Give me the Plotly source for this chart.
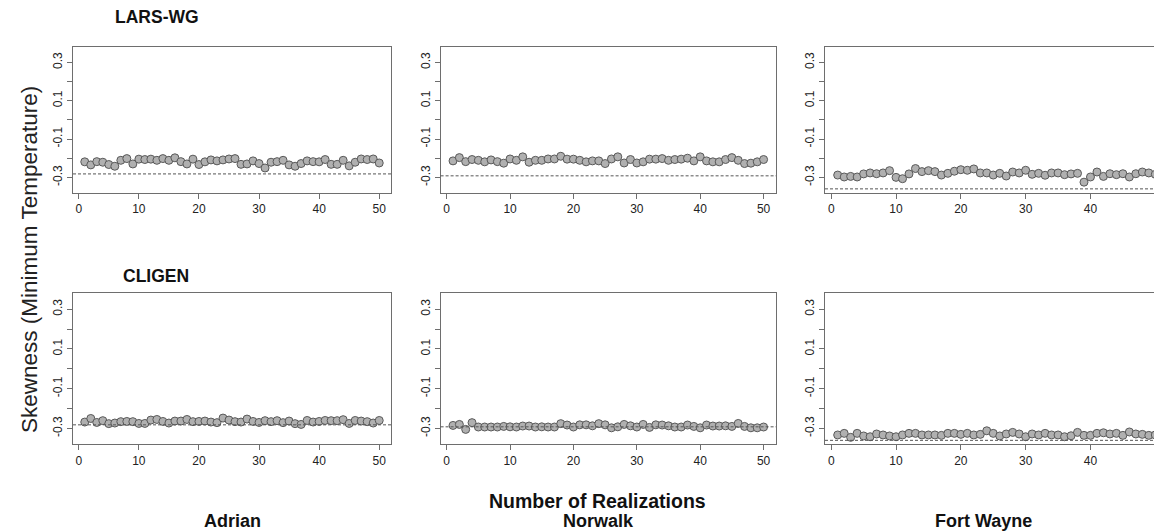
import plotly.graph_objects as go

# ---------------- data ----------------
realization = list(range(1, 51))
stations = ["Adrian", "Norwalk", "Fort Wayne"]
generators = ["LARS-WG", "CLIGEN"]
observed_skew = [-0.282, -0.292, -0.360]

lars_adrian = [-0.219, -0.235, -0.218, -0.221, -0.233, -0.242, -0.211, -0.202, -0.230, -0.205,
               -0.207, -0.205, -0.211, -0.202, -0.211, -0.198, -0.218, -0.230, -0.205, -0.233,
               -0.219, -0.209, -0.214, -0.209, -0.204, -0.202, -0.232, -0.230, -0.214, -0.228,
               -0.251, -0.221, -0.218, -0.211, -0.235, -0.242, -0.228, -0.214, -0.218, -0.219,
               -0.207, -0.232, -0.232, -0.211, -0.240, -0.221, -0.204, -0.207, -0.204, -0.225]
lars_norwalk = [-0.214, -0.197, -0.218, -0.207, -0.211, -0.219, -0.209, -0.218, -0.226, -0.204,
                -0.211, -0.193, -0.221, -0.211, -0.211, -0.204, -0.204, -0.190, -0.205, -0.205,
                -0.211, -0.219, -0.214, -0.214, -0.228, -0.204, -0.193, -0.225, -0.207, -0.225,
                -0.219, -0.205, -0.205, -0.202, -0.211, -0.207, -0.205, -0.200, -0.214, -0.193,
                -0.214, -0.219, -0.219, -0.207, -0.197, -0.211, -0.228, -0.226, -0.219, -0.207]
lars_fortwayne = [-0.288, -0.298, -0.295, -0.298, -0.282, -0.277, -0.281, -0.277, -0.265, -0.300,
                  -0.307, -0.282, -0.254, -0.270, -0.265, -0.270, -0.288, -0.279, -0.268, -0.260,
                  -0.263, -0.256, -0.277, -0.277, -0.288, -0.279, -0.293, -0.272, -0.277, -0.263,
                  -0.284, -0.279, -0.289, -0.277, -0.277, -0.286, -0.282, -0.279, -0.325, -0.298,
                  -0.272, -0.295, -0.281, -0.286, -0.281, -0.298, -0.281, -0.272, -0.277, -0.284]
cligen_adrian = [-0.268, -0.250, -0.270, -0.261, -0.276, -0.273, -0.266, -0.265, -0.266, -0.275,
                 -0.275, -0.258, -0.255, -0.265, -0.273, -0.263, -0.263, -0.255, -0.266, -0.265,
                 -0.263, -0.268, -0.271, -0.248, -0.258, -0.266, -0.268, -0.253, -0.265, -0.270,
                 -0.261, -0.266, -0.261, -0.271, -0.263, -0.276, -0.280, -0.260, -0.268, -0.265,
                 -0.260, -0.261, -0.261, -0.256, -0.275, -0.260, -0.263, -0.266, -0.273, -0.260]
cligen_norwalk = [-0.285, -0.280, -0.305, -0.271, -0.293, -0.293, -0.293, -0.293, -0.290, -0.292,
                  -0.293, -0.288, -0.288, -0.293, -0.292, -0.293, -0.293, -0.276, -0.283, -0.293,
                  -0.282, -0.282, -0.287, -0.276, -0.282, -0.297, -0.292, -0.280, -0.287, -0.293,
                  -0.280, -0.295, -0.282, -0.283, -0.287, -0.293, -0.293, -0.283, -0.290, -0.297,
                  -0.283, -0.288, -0.288, -0.287, -0.290, -0.275, -0.290, -0.297, -0.297, -0.293]
cligen_fortwayne = [-0.333, -0.325, -0.345, -0.325, -0.338, -0.342, -0.328, -0.333, -0.338, -0.342,
                    -0.333, -0.325, -0.325, -0.333, -0.333, -0.333, -0.335, -0.325, -0.325, -0.330,
                    -0.325, -0.333, -0.330, -0.312, -0.325, -0.338, -0.328, -0.320, -0.328, -0.342,
                    -0.328, -0.333, -0.325, -0.333, -0.333, -0.342, -0.337, -0.320, -0.335, -0.335,
                    -0.325, -0.322, -0.328, -0.325, -0.335, -0.318, -0.328, -0.330, -0.335, -0.333]

y_tick_vals = [-0.3, -0.2, -0.1, 0.0, 0.1, 0.2, 0.3]
y_tick_text = ["-0.3", "", "-0.1", "", "0.1", "", "0.3"]
x_tick_vals = [0, 10, 20, 30, 40, 50]

series = [lars_adrian, lars_norwalk, lars_fortwayne,
          cligen_adrian, cligen_norwalk, cligen_fortwayne]

# ---------------- layout geometry ----------------
W, H = 1154, 532
col_dom = [[73 / W, 391 / W], [440.6 / W, 776 / W], [825 / W, 1.0]]
row_dom = [[1 - 192.7 / H, 1 - 47 / H], [1 - 444.3 / H, 1 - 293.3 / H]]
x_ranges = [[-0.96, 51.96], [-0.96, 51.96], [-0.96, 49.8]]

FONT = "Liberation Sans, Arial, sans-serif"
LINE = "#6e6e6e"

fig = go.Figure()
layout = dict(
    width=W, height=H,
    margin=dict(l=0, r=0, t=0, b=0),
    paper_bgcolor="white", plot_bgcolor="white",
    showlegend=False,
    font=dict(family=FONT, color="#222222"),
)
shapes = []
for k, ys in enumerate(series):
    r, c = divmod(k, 3)
    n = k + 1
    xa = "x" if n == 1 else f"x{n}"
    ya = "y" if n == 1 else f"y{n}"
    fig.add_trace(go.Scatter(
        x=realization, y=ys, mode="markers", xaxis=xa, yaxis=ya,
        marker=dict(size=8, color="#b0b0b0", line=dict(color="#595959", width=1)),
    ))
    xkey = "xaxis" if n == 1 else f"xaxis{n}"
    ykey = "yaxis" if n == 1 else f"yaxis{n}"
    layout[xkey] = dict(
        domain=col_dom[c], anchor=ya, range=x_ranges[c],
        tickmode="array", tickvals=x_tick_vals, ticks="outside", ticklen=5,
        tickcolor=LINE, showline=True, linecolor=LINE, linewidth=1, mirror=True,
        showgrid=False, zeroline=False,
        tickfont=dict(size=12, family=FONT, color="#222222"),
    )
    layout[ykey] = dict(
        domain=row_dom[r], anchor=xa, range=[-0.38, 0.38],
        tickmode="array", tickvals=y_tick_vals, ticktext=y_tick_text,
        ticks="outside", ticklen=5, tickcolor=LINE, tickangle=-90,
        showline=True, linecolor=LINE, linewidth=1, mirror=(c != 2),
        showgrid=False, zeroline=False,
        tickfont=dict(size=12, family=FONT, color="#222222"),
    )
    shapes.append(dict(
        type="line", xref=f"{xa} domain", yref=ya, x0=0, x1=1,
        y0=observed_skew[c], y1=observed_skew[c],
        line=dict(color="#555555", width=1, dash="3px,2px"),
    ))

layout["shapes"] = shapes


def label(text, cx, cy, size, angle=0, bold=False, color="#111111", family=FONT):
    return dict(text=f"<b>{text}</b>" if bold else text, x=cx / W, y=1 - cy / H,
                xref="paper", yref="paper", xanchor="center", yanchor="middle",
                showarrow=False, textangle=angle,
                font=dict(size=size, family=family, color=color))


ann = [
    label(generators[0], 157, 17, 17.5, bold=True),
    label(generators[1], 156, 276, 17.5, bold=True),
    label("Skewness (Minimum Temperature)", 29, 260, 22.5, angle=-90, color="#222222"),
    label("Number of Realizations", 597, 501, 19.5, bold=True),
]
for name, cx in zip(stations, [232, 599, 983]):
    ann.append(label(name, cx, 521, 18, bold=True))
layout["annotations"] = ann
fig.update_layout(**layout)
fig.write_html("out.html", config={"displayModeBar": False},
               post_script="document.body.style.margin='0';")
